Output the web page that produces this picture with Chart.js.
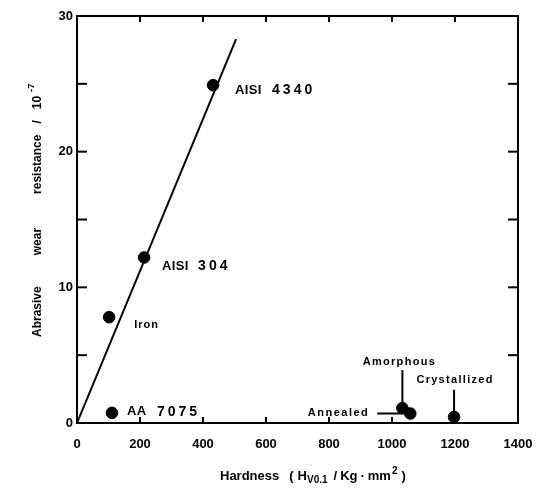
<!DOCTYPE html>
<html>
<head>
<meta charset="utf-8">
<script src="https://cdn.jsdelivr.net/npm/chart.js@4/dist/chart.umd.min.js"></script>
<style>
  body { margin: 0; background: #fff; }
  #wrap { width: 551px; height: 488px; }
</style>
</head>
<body>
<div id="wrap"><canvas id="chart"></canvas></div>
<script>
// wear resistance vs. hardness for the alloys
const materials = ['AISI 4340', 'AISI 304', 'Iron', 'AA 7075', 'Amorphous', 'Annealed', 'Crystallized'];
const hardness = [432, 213, 102, 111, 1033, 1058, 1197];
const wearResistance = [24.9, 12.2, 7.8, 0.75, 1.1, 0.7, 0.45];

// straight line through the crystalline alloys
const fitHardness = [0, 505];
const fitWear = [0, 28.3];

const xTickValues = [0, 200, 400, 600, 800, 1000, 1200, 1400];
const yTickValues = [0, 10, 20, 30];

// where each point's name goes, relative to the point
// numOffset: the grade number is set apart from the letters
const labelLayout = [
  { dx: 22, dy: 5, align: 'left', size: 13, spacing: 0.3, numOffset: 37 },
  { dx: 18, dy: 9, align: 'left', size: 13, spacing: 0.3, numOffset: 36 },
  { dx: 25, dy: 8, align: 'left', size: 11, spacing: 1 },
  { dx: 15, dy: -1, align: 'left', size: 13, spacing: 0.3, numOffset: 30 },
  { dx: -3, dy: -46, align: 'center', size: 11, spacing: 1.3, leader: [0, -38, 0, -4] },
  { dx: -41, dy: -1, align: 'right', size: 11, spacing: 1.5, leader: [-33, 0, -6, 0] },
  { dx: 1, dy: -37, align: 'center', size: 11, spacing: 1.3, leader: [0, -27, 0, -4] }
];

const FONT = '"Liberation Sans", Arial, sans-serif';

function drawRun(ctx, x, y, parts) {
  // parts: [text, size, raise, gapBefore]
  let cx = x;
  for (const [text, size, raise, gap] of parts) {
    cx += gap;
    ctx.font = `bold ${size}px ${FONT}`;
    ctx.fillText(text, cx, y - raise);
    cx += ctx.measureText(text).width;
  }
}

const frameAndLabels = {
  id: 'frameAndLabels',
  afterDatasetsDraw(chart) {
    const { ctx, chartArea: a, scales: { x, y } } = chart;
    ctx.save();
    ctx.strokeStyle = '#000';
    ctx.fillStyle = '#000';
    ctx.lineWidth = 2;
    ctx.strokeRect(a.left, a.top, a.right - a.left, a.bottom - a.top);

    const seg = (x1, y1, x2, y2) => {
      ctx.beginPath(); ctx.moveTo(x1, y1); ctx.lineTo(x2, y2); ctx.stroke();
    };
    // inward ticks on all four sides
    for (let v = 200; v < 1400; v += 200) {
      const px = x.getPixelForValue(v);
      seg(px, a.bottom, px, a.bottom - 6);
      seg(px, a.top, px, a.top + 6);
    }
    for (let v = 5; v < 30; v += 5) {
      const py = y.getPixelForValue(v);
      seg(a.left, py, a.left + 10, py);
      seg(a.right, py, a.right - 10, py);
    }

    // point names and leader lines
    const pts = chart.getDatasetMeta(0).data;
    ctx.textBaseline = 'middle';
    materials.forEach((name, i) => {
      const p = pts[i], L = labelLayout[i];
      const tx = p.x + L.dx, ty = p.y + L.dy;
      ctx.font = `bold ${L.size}px ${FONT}`;
      ctx.textAlign = L.align;
      if (L.numOffset) {
        const [word, num] = name.split(' ');
        ctx.letterSpacing = L.spacing + 'px';
        ctx.fillText(word, tx, ty);
        ctx.font = `bold 14px ${FONT}`;
        ctx.letterSpacing = '3px';
        ctx.fillText(num, tx + L.numOffset, ty);
      } else {
        ctx.letterSpacing = L.spacing + 'px';
        ctx.fillText(name, tx, ty);
      }
      if (L.leader) {
        seg(p.x + L.leader[0], p.y + L.leader[1], p.x + L.leader[2], p.y + L.leader[3]);
      }
    });
    ctx.letterSpacing = '0px';

    // axis titles
    ctx.textAlign = 'left';
    ctx.textBaseline = 'alphabetic';
    drawRun(ctx, 220, 480, [
      ['Hardness', 13, 0, 0], ['(', 13, 0, 10], ['H', 13, 0, 4],
      ['V0.1', 10, -3, 0], ['/', 13, 0, 6], ['Kg', 13, 0, 3],
      ['·', 13, 0, 3], ['mm', 13, 0, 3], ['2', 10, 6, 1], [')', 13, 0, 4]
    ]);
    ctx.save();
    ctx.translate(41, 337);
    ctx.rotate(-Math.PI / 2);
    drawRun(ctx, 0, 0, [
      ['Abrasive', 12, 0, 0], ['wear', 12, 0, 31], ['resistance', 12, 0, 34],
      ['/', 12, 0, 11], ['10', 12, 0, 11], ['-7', 9.5, 7, 4]
    ]);
    ctx.restore();
    ctx.restore();
  }
};

const hiddenGrid = { display: true, drawOnChartArea: false, drawTicks: false, color: 'rgba(0,0,0,0)' };

new Chart(document.getElementById('chart'), {
  type: 'scatter',
  data: {
    datasets: [
      {
        label: 'alloys',
        data: hardness.map((h, i) => ({ x: h, y: wearResistance[i] })),
        backgroundColor: '#000',
        borderColor: '#000',
        pointRadius: 5.8,
        pointHoverRadius: 5.8
      },
      {
        type: 'line',
        label: 'fit',
        data: fitHardness.map((h, i) => ({ x: h, y: fitWear[i] })),
        borderColor: '#000',
        borderWidth: 2,
        pointRadius: 0,
        fill: false
      }
    ]
  },
  options: {
    responsive: true,
    maintainAspectRatio: false,
    animation: false,
    layout: { padding: { top: 16, right: 33, left: 0, bottom: 0 } },
    plugins: { legend: { display: false }, tooltip: { enabled: false } },
    scales: {
      x: {
        type: 'linear', min: 0, max: 1400,
        afterBuildTicks: s => { s.ticks = xTickValues.map(v => ({ value: v })); },
        afterFit: s => { s.height = 65; },
        grid: hiddenGrid,
        border: { display: false },
        ticks: {
          color: '#000', padding: 14, maxRotation: 0,
          callback: v => String(v),
          font: { family: FONT, size: 13, weight: 'bold' }
        }
      },
      y: {
        type: 'linear', min: 0, max: 30,
        afterBuildTicks: s => { s.ticks = yTickValues.map(v => ({ value: v })); },
        afterFit: s => { s.width = 77; },
        grid: hiddenGrid,
        border: { display: false },
        ticks: { color: '#000', padding: 4, font: { family: FONT, size: 13, weight: 'bold' } }
      }
    }
  },
  plugins: [frameAndLabels]
});
</script>
</body>
</html>
